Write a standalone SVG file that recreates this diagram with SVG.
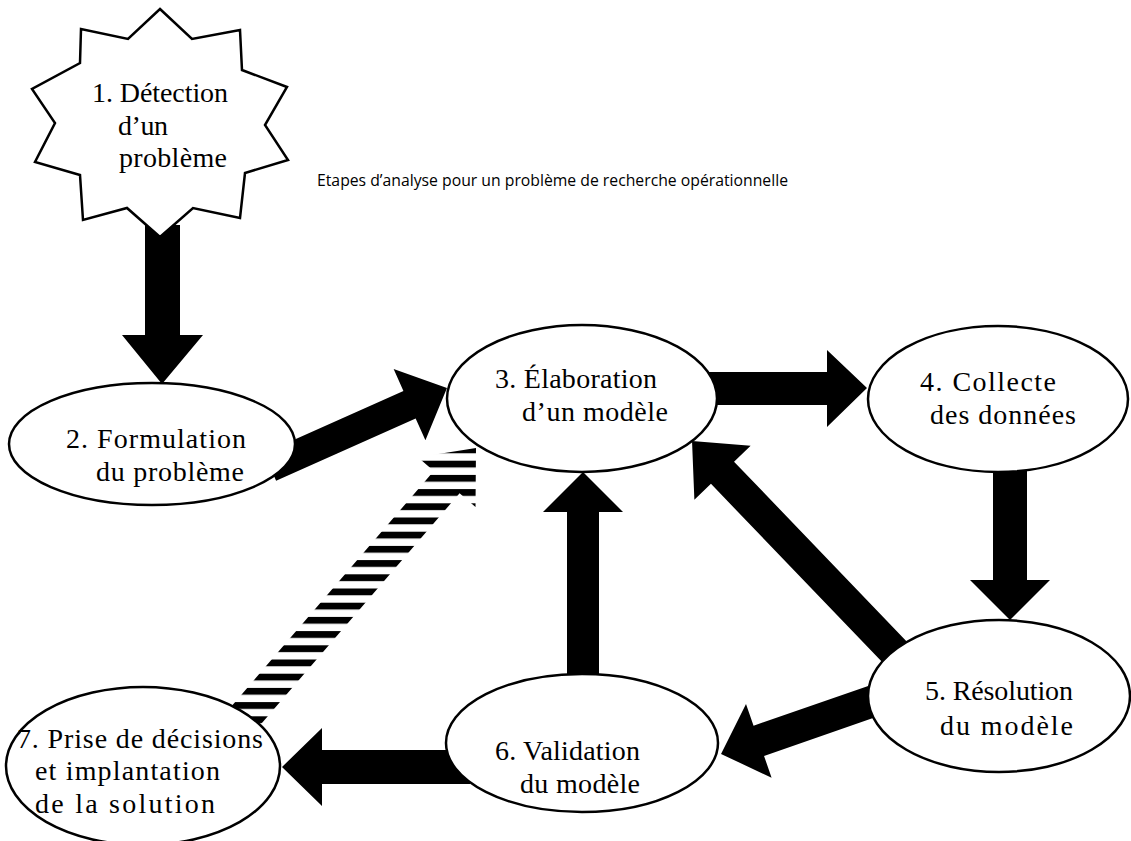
<svg xmlns="http://www.w3.org/2000/svg" width="1131" height="841" viewBox="0 0 1131 841">
<style>
.node{fill:#fff;stroke:#000;stroke-width:2.5}
.lbl{font-family:"Liberation Serif","Times New Roman",serif;font-size:28px;fill:#000}
.title{font-family:"Open Sans",Lato,sans-serif;font-size:16px;fill:#000}
.arr{fill:#000;stroke:none}
</style>
<defs>
<pattern id="hatch" patternUnits="userSpaceOnUse" x="0" y="503.3" width="20" height="14.2">
<rect x="0" y="0" width="20" height="6.8" fill="#000"/>
</pattern>
</defs>
<rect width="1131" height="841" fill="#fff"/>
<text class="title" x="317" y="186" textLength="471" lengthAdjust="spacingAndGlyphs">Etapes d’analyse pour un problème de recherche opérationnelle</text>
<g id="connectors">
<polygon class="arr" points="145,225 180,225 180,335 203,335 162,384 122,335 145,335"/>
<polygon class="arr" transform="translate(270,467) rotate(-24.05)" points="0,-15 152.8,-15 152.8,-39 193.8,0 152.8,39 152.8,15 0,15"/>
<polygon class="arr" points="700,372 827,372 827,350 867,388 827,427 827,405 700,405"/>
<polygon class="arr" points="993,460 1027,460 1027,580 1050,580 1010,620 970,580 993,580"/>
<polygon class="arr" transform="translate(910,668) rotate(226.16)" points="0,-16 270.7,-16 270.7,-39 314.7,0 270.7,39 270.7,16 0,16"/>
<polygon class="arr" points="567,690 599,690 599,512 623,512 583,472 543,512 567,512"/>
<polygon class="arr" transform="translate(885,697) rotate(160.84)" points="0,-16 133.6,-16 133.6,-39 173.6,0 133.6,39 133.6,16 0,16"/>
<polygon class="arr" points="470,750 322,750 322,728 282,767 322,806 322,784 470,784"/>
<polygon fill="url(#hatch)" points="217.1,722.9 433.8,471.0 417.9,457.3 476,448 475.5,506.9 459.6,493.2 242.9,745.1"/>
</g>
<g id="n1">
<polygon class="node" points="160,9 192,39 240,30 242,70 287,87 265,125 288,160 245,173 240,218 193,208 160,237 127,208 83,220 80,175 35,162 55,123 32,89 80,63 81,29 128,39"/>
<text class="lbl" x="92" y="102" textLength="136">1. Détection</text>
<text class="lbl" x="118" y="135" textLength="50">d’un</text>
<text class="lbl" x="119" y="167" textLength="108">problème</text>
</g>
<g id="n2">
<ellipse class="node" cx="152" cy="444" rx="143" ry="61"/>
<text class="lbl" x="66" y="448" textLength="180">2. Formulation</text>
<text class="lbl" x="96" y="481" textLength="148">du problème</text>
</g>
<g id="n3">
<ellipse class="node" cx="582" cy="398.5" rx="135" ry="73.5"/>
<text class="lbl" x="495" y="388" textLength="162">3. Élaboration</text>
<text class="lbl" x="522" y="421" textLength="146">d’un modèle</text>
</g>
<g id="n4">
<ellipse class="node" cx="998" cy="399" rx="130" ry="73"/>
<text class="lbl" x="920" y="391" textLength="136">4. Collecte</text>
<text class="lbl" x="930" y="424" textLength="146">des données</text>
</g>
<g id="n5">
<ellipse class="node" cx="999" cy="696" rx="131" ry="76"/>
<text class="lbl" x="925" y="700" textLength="148">5. Résolution</text>
<text class="lbl" x="940" y="735" textLength="133">du modèle</text>
</g>
<g id="n6">
<ellipse class="node" cx="582" cy="743" rx="136" ry="69"/>
<text class="lbl" x="495" y="760" textLength="145">6. Validation</text>
<text class="lbl" x="520" y="793" textLength="120">du modèle</text>
</g>
<g id="n7">
<ellipse class="node" cx="143" cy="766" rx="137" ry="79"/>
<text class="lbl" x="17" y="748" textLength="246">7. Prise de décisions</text>
<text class="lbl" x="35" y="780" textLength="185">et implantation</text>
<text class="lbl" x="35" y="813" textLength="180">de la solution</text>
</g>
</svg>
